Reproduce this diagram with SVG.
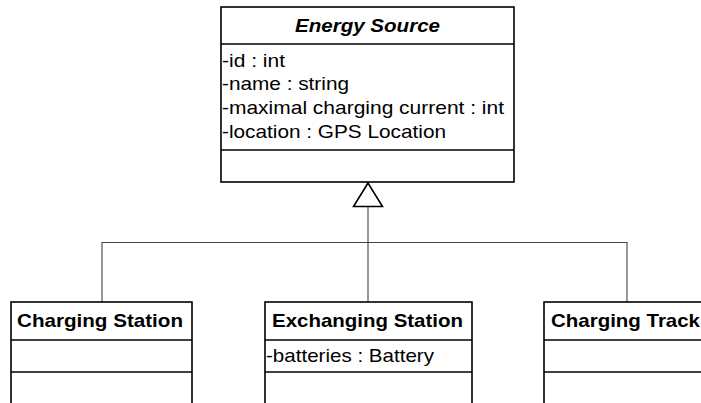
<svg xmlns="http://www.w3.org/2000/svg" width="701" height="403" viewBox="0 0 701 403">
  <style>
    .box { fill: #ffffff; stroke: #000000; stroke-width: 1.6; }
    .sep { stroke: #000000; stroke-width: 1.6; }
    .link { fill: none; stroke: #444444; stroke-width: 1.1; }
    .head { fill: #ffffff; stroke: #000000; stroke-width: 1.6; }
    .title { font-family: "Liberation Sans", Arial, sans-serif; font-size: 18.5px; font-weight: bold; fill: #000000; }
    .attr { font-family: "Liberation Sans", Arial, sans-serif; font-size: 19px; fill: #000000; }
  </style>
  <rect width="701" height="403" fill="#ffffff"/>

  <!-- generalization connectors -->
  <g id="connectors">
    <path class="link" d="M368,207 V302"/>
    <path class="link" d="M102,302 V242.5 H627 V302"/>
    <polygon class="head" points="368,183 353.5,206.5 382.5,206.5"/>
  </g>

  <g id="energy-source">
    <rect class="box" x="221" y="7" width="293" height="175"/>
    <line class="sep" x1="221" y1="44" x2="514" y2="44"/>
    <line class="sep" x1="221" y1="150" x2="514" y2="150"/>
    <text class="title" x="295" y="32" font-style="italic" textLength="145" lengthAdjust="spacingAndGlyphs">Energy Source</text>
    <text class="attr" x="222" y="67" textLength="63" lengthAdjust="spacingAndGlyphs">-id : int</text>
    <text class="attr" x="222" y="90" textLength="127" lengthAdjust="spacingAndGlyphs">-name : string</text>
    <text class="attr" x="222" y="114" textLength="282" lengthAdjust="spacingAndGlyphs">-maximal charging current : int</text>
    <text class="attr" x="222" y="138" textLength="224" lengthAdjust="spacingAndGlyphs">-location : GPS Location</text>
  </g>

  <g id="charging-station">
    <rect class="box" x="11" y="302" width="181" height="120"/>
    <line class="sep" x1="11" y1="340" x2="192" y2="340"/>
    <line class="sep" x1="11" y1="372" x2="192" y2="372"/>
    <text class="title" x="17" y="327" textLength="166" lengthAdjust="spacingAndGlyphs">Charging Station</text>
  </g>

  <g id="exchanging-station">
    <rect class="box" x="265" y="302" width="207" height="120"/>
    <line class="sep" x1="265" y1="340" x2="472" y2="340"/>
    <line class="sep" x1="265" y1="372" x2="472" y2="372"/>
    <text class="title" x="272" y="327" textLength="191" lengthAdjust="spacingAndGlyphs">Exchanging Station</text>
    <text class="attr" x="266" y="362" textLength="168" lengthAdjust="spacingAndGlyphs">-batteries : Battery</text>
  </g>

  <g id="charging-track">
    <rect class="box" x="544" y="302" width="190" height="120"/>
    <line class="sep" x1="544" y1="340" x2="734" y2="340"/>
    <line class="sep" x1="544" y1="372" x2="734" y2="372"/>
    <text class="title" x="551" y="327" textLength="149" lengthAdjust="spacingAndGlyphs">Charging Track</text>
  </g>
</svg>
